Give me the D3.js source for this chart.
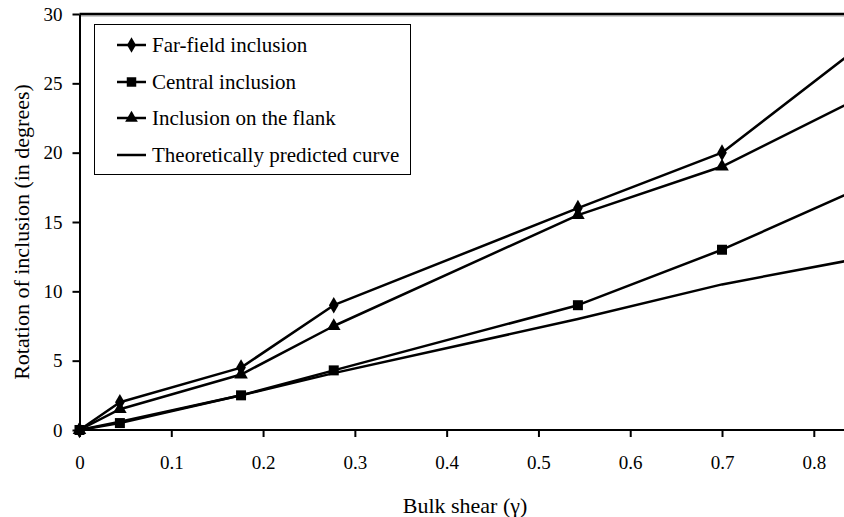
<!DOCTYPE html>
<html>
<head>
<meta charset="utf-8">
<script src="https://d3js.org/d3.v7.min.js"></script>
<style>
  body { margin: 0; background: #ffffff; }
  text {
    font-family: "Liberation Serif", "Times New Roman", serif;
    fill: #000000;
  }
  .tick text { font-size: 19px; }
  text.axis-title { font-size: 22px; }
  text.legend-label { font-size: 21px; }
</style>
</head>
<body>
<div id="chart"></div>
<script>

  // values (last point lies outside the visible area)
  const shear = [0, 0.044, 0.176, 0.277, 0.543, 0.7, 0.9];
  const farField = [0, 2, 4.5, 9, 16, 20, 30.2];
  const central = [0, 0.5, 2.5, 4.3, 9, 13, 18.9];
  const flank = [0, 1.5, 4, 7.5, 15.5, 19, 25.6];
  const theory = [0, 0.6, 2.5, 4.1, 8.0, 10.5, 13.0];

  const xTicks = [0, 0.1, 0.2, 0.3, 0.4, 0.5, 0.6, 0.7, 0.8];
  const yTicks = [0, 5, 10, 15, 20, 25, 30];

  const seriesNames = ["Far-field inclusion", "Central inclusion", "Inclusion on the flank", "Theoretically predicted curve"];
  const seriesValues = [farField, central, flank, theory];
  const seriesMarkers = [d3.symbolDiamond, d3.symbolSquare, d3.symbolTriangle, null];

  const width = 844, height = 517;

  const svg = d3.select("#chart")
    .append("svg")
    .attr("width", width)
    .attr("height", height);

  // scales (the plot runs past the right edge of the picture)
  const x = d3.scaleLinear()
    .domain([0, 0.8])
    .range([79.5, 813.8]);

  const y = d3.scaleLinear()
    .domain([0, 30])
    .range([430, 14]);

  // top border of plot area
  svg.append("line")
    .attr("x1", x(0)).attr("x2", width + 10)
    .attr("y1", y(30) + 2).attr("y2", y(30) + 2)
    .attr("stroke", "#bbbbbb")
    .attr("stroke-width", 1.5);
  svg.append("line")
    .attr("x1", x(0)).attr("x2", width + 10)
    .attr("y1", y(30)).attr("y2", y(30))
    .attr("stroke", "#000000")
    .attr("stroke-width", 2.5);

  // X axis
  const xAxis = svg.append("g")
    .attr("transform", `translate(0, ${y(0)})`)
    .call(d3.axisBottom(x).tickValues(xTicks).tickFormat(d3.format("")).tickSize(7).tickPadding(18).tickSizeOuter(0));
  xAxis.select(".domain").attr("d", `M${x(0)},0H${width + 10}`);

  // Y axis
  const yAxis = svg.append("g")
    .attr("transform", `translate(${x(0)}, 0)`)
    .call(d3.axisLeft(y).tickValues(yTicks).tickSize(7).tickPadding(10).tickSizeOuter(0));

  svg.selectAll(".domain").attr("stroke", "#000").attr("stroke-width", 2);
  svg.selectAll(".tick line").attr("stroke", "#000").attr("stroke-width", 2);
  svg.selectAll(".tick text").style("font-family", "Liberation Serif");
  xAxis.selectAll(".tick text").attr("dy", "0.75em");

  // axis titles
  svg.append("text")
    .attr("class", "axis-title")
    .attr("x", 465)
    .attr("y", 513)
    .attr("text-anchor", "middle")
    .text("Bulk shear (\u03B3)");

  svg.append("text")
    .attr("class", "axis-title")
    .attr("transform", "translate(29, 232) rotate(-90)")
    .attr("text-anchor", "middle")
    .text("Rotation of inclusion (in degrees)");

  // lines and markers
  const line = d3.line()
    .x(function(d, i) { return x(shear[i]); })
    .y(function(d) { return y(d); });

  seriesValues.forEach(function(vals, k) {
    svg.append("path")
      .datum(vals)
      .attr("d", line)
      .attr("fill", "none")
      .attr("stroke", "#000")
      .attr("stroke-width", 2.5)
      .attr("stroke-linejoin", "round");

    if (seriesMarkers[k]) {
      svg.selectAll(null)
        .data(vals)
        .join("path")
          .attr("transform", function(d, i) { return `translate(${x(shear[i])}, ${y(d)})`; })
          .attr("d", d3.symbol().type(seriesMarkers[k]).size(k === 1 ? 100 : 80))
          .attr("fill", "#000");
    }
  });

  // legend
  const legend = svg.append("g");
  legend.append("rect")
    .attr("x", 94.5).attr("y", 24.5)
    .attr("width", 316).attr("height", 150)
    .attr("fill", "#fff")
    .attr("stroke", "#000")
    .attr("stroke-width", 1);

  const rowY = [45, 82, 118, 155];
  seriesNames.forEach(function(name, k) {
    legend.append("line")
      .attr("x1", 117).attr("x2", 146)
      .attr("y1", rowY[k]).attr("y2", rowY[k])
      .attr("stroke", "#000")
      .attr("stroke-width", 2.5);
    if (seriesMarkers[k]) {
      legend.append("path")
        .attr("transform", `translate(131.5, ${rowY[k]})`)
        .attr("d", d3.symbol().type(seriesMarkers[k]).size(k === 1 ? 90 : 70))
        .attr("fill", "#000");
    }
    legend.append("text")
      .attr("class", "legend-label")
      .attr("x", 152)
      .attr("y", rowY[k])
      .attr("dy", "0.35em")
      .text(name);
  });

</script>
</body>
</html>
